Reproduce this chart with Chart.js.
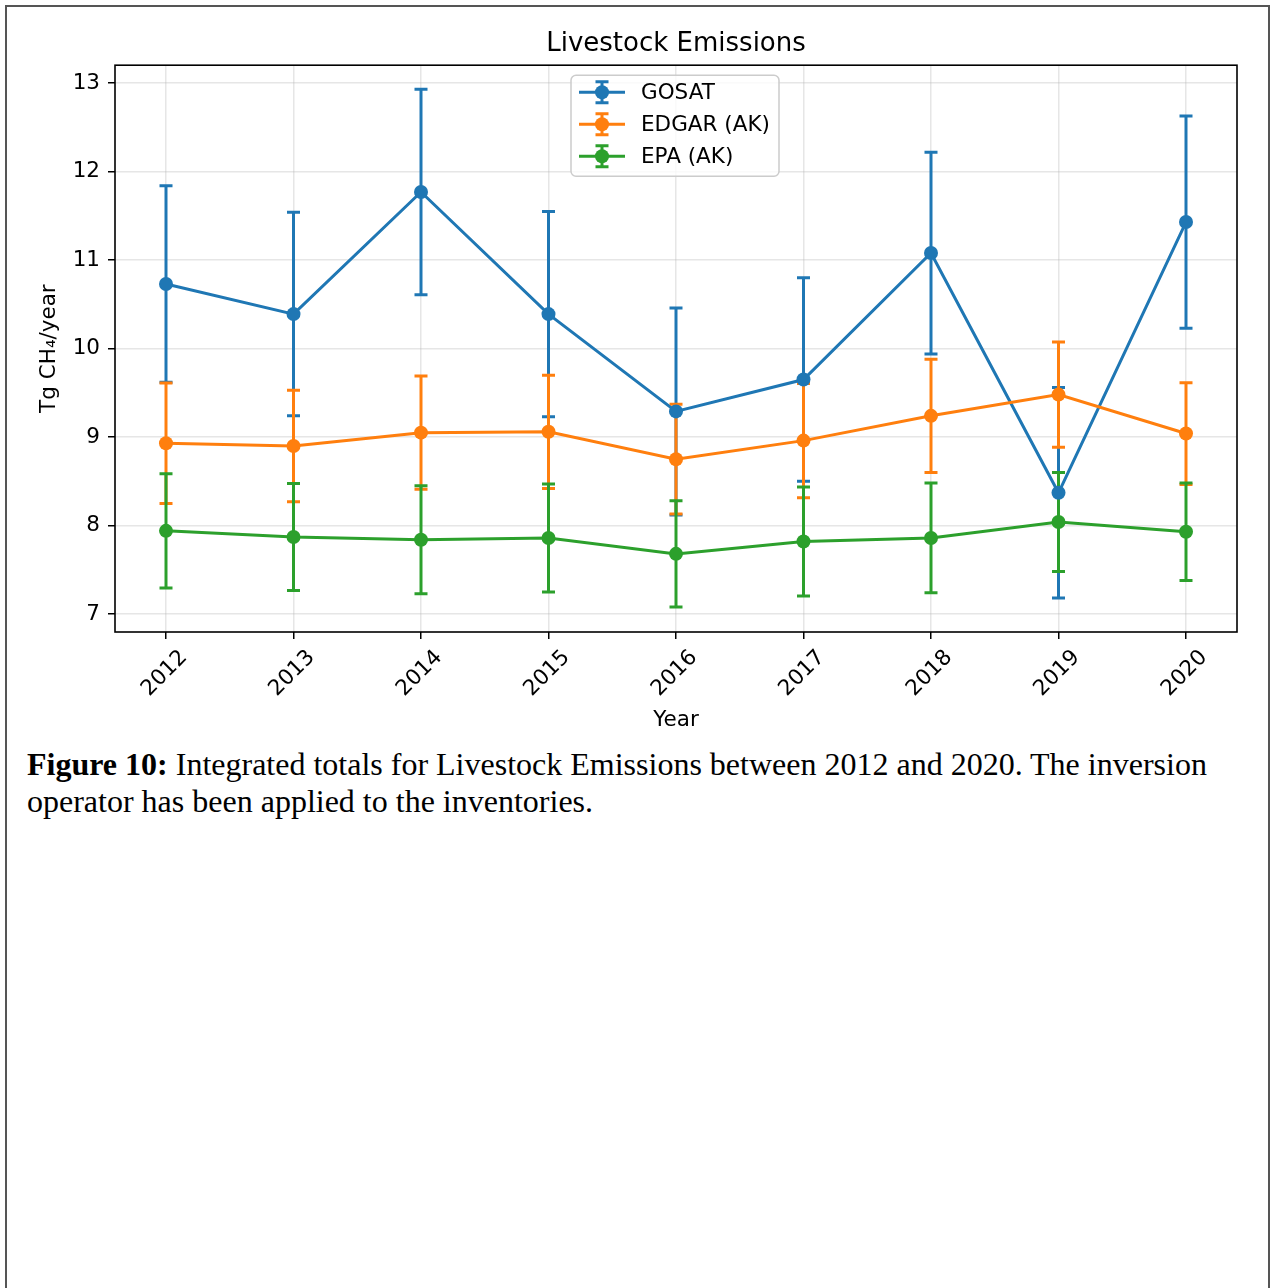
<!DOCTYPE html>
<html>
<head>
<meta charset="utf-8">
<script src="https://cdn.jsdelivr.net/npm/chart.js@4.4.1/dist/chart.umd.min.js"></script>
<style>
  html, body { margin: 0; padding: 0; background: #fff; overflow: hidden; }
  body { width: 1270px; height: 1288px; position: relative; }
  #frame {
    position: absolute; left: 5px; top: 5px; width: 1265px; height: 1300px;
    box-sizing: border-box; border: 2px solid #555; border-bottom: none;
    pointer-events: none;
  }
  #chart { position: absolute; left: 0; top: 0; display: block; }
  #caption {
    position: absolute; left: 27px; top: 746px; width: 1220px;
    font-family: "Liberation Serif", "Times New Roman", serif;
    font-size: 32px; line-height: 37px; color: #000; white-space: nowrap;
  }
</style>
</head>
<body>
<div id="frame"></div>
<canvas id="chart" width="1270" height="740"></canvas>
<div id="caption"><b>Figure 10:</b> Integrated totals for Livestock Emissions between 2012 and 2020. The inversion<br>operator has been applied to the inventories.</div>
<script>
// Years on the x axis
const years = [2012, 2013, 2014, 2015, 2016, 2017, 2018, 2019, 2020];

// Integrated totals (Tg CH4/year) and their 1-sigma uncertainties
const gosat    = [10.73, 10.39, 11.77, 10.39, 9.29, 9.65, 11.08, 8.37, 11.43];
const gosatErr = [1.11, 1.15, 1.16, 1.16, 1.17, 1.15, 1.14, 1.19, 1.20];
const edgar    = [8.93, 8.90, 9.05, 9.06, 8.75, 8.96, 9.24, 9.48, 9.04];
const edgarErr = [0.68, 0.63, 0.64, 0.64, 0.62, 0.645, 0.64, 0.595, 0.575];
const epa      = [7.94, 7.87, 7.84, 7.86, 7.68, 7.82, 7.86, 8.04, 7.93];
const epaErr   = [0.645, 0.605, 0.61, 0.61, 0.60, 0.615, 0.62, 0.56, 0.55];

const seriesNames = ['GOSAT', 'EDGAR (AK)', 'EPA (AK)'];
const yTicks = [7, 8, 9, 10, 11, 12, 13];

const colors = ['#1f77b4', '#ff7f0e', '#2ca02c'];
const seriesValues = [gosat, edgar, epa];
const seriesErrors = [gosatErr, edgarErr, epaErr];

const LINE_W = 3;
const CAP_HALF = 6.5;
const FONT_SIZE = 21.5;

Chart.defaults.font.family = '"DejaVu Sans", sans-serif';
Chart.defaults.font.size = FONT_SIZE;
Chart.defaults.color = '#000';

// Vertical error bars with caps, drawn beneath the lines and markers
const errorBars = {
  id: 'errorBars',
  beforeDatasetsDraw(chart) {
    const {ctx, scales: {x, y}, chartArea} = chart;
    ctx.save();
    ctx.beginPath();
    ctx.rect(chartArea.left, chartArea.top, chartArea.right - chartArea.left, chartArea.bottom - chartArea.top);
    ctx.clip();
    ctx.lineWidth = LINE_W;
    ctx.lineCap = 'butt';
    seriesValues.forEach((vals, i) => {
      ctx.strokeStyle = colors[i];
      vals.forEach((v, j) => {
        const px = x.getPixelForValue(years[j]);
        const top = y.getPixelForValue(v + seriesErrors[i][j]);
        const bot = y.getPixelForValue(v - seriesErrors[i][j]);
        ctx.beginPath();
        ctx.moveTo(px, top); ctx.lineTo(px, bot);
        ctx.moveTo(px - CAP_HALF, top); ctx.lineTo(px + CAP_HALF, top);
        ctx.moveTo(px - CAP_HALF, bot); ctx.lineTo(px + CAP_HALF, bot);
        ctx.stroke();
      });
    });
    ctx.restore();
  }
};

// Axes frame on all four sides
const frameBox = {
  id: 'frameBox',
  afterDatasetsDraw(chart) {
    const {ctx, chartArea: a} = chart;
    ctx.save();
    ctx.strokeStyle = '#000';
    ctx.lineWidth = 1.6;
    ctx.strokeRect(a.left, a.top, a.right - a.left, a.bottom - a.top);
    ctx.restore();
  }
};

// Legend box with errorbar-style handles
const errLegend = {
  id: 'errLegend',
  afterDraw(chart) {
    const {ctx, chartArea: a} = chart;
    const bx = a.left + 456, by = a.top + 10, bw = 208, bh = 101, r = 5;
    ctx.save();
    ctx.beginPath();
    ctx.moveTo(bx + r, by);
    ctx.arcTo(bx + bw, by, bx + bw, by + bh, r);
    ctx.arcTo(bx + bw, by + bh, bx, by + bh, r);
    ctx.arcTo(bx, by + bh, bx, by, r);
    ctx.arcTo(bx, by, bx + bw, by, r);
    ctx.closePath();
    ctx.fillStyle = 'rgba(255,255,255,0.8)';
    ctx.fill();
    ctx.strokeStyle = '#cccccc';
    ctx.lineWidth = 1.5;
    ctx.stroke();

    ctx.font = FONT_SIZE + 'px "DejaVu Sans", sans-serif';
    ctx.textBaseline = 'middle';
    ctx.textAlign = 'left';
    seriesNames.forEach((name, i) => {
      const cy = by + 17 + i * 32;
      const x0 = bx + 8, x1 = bx + 54, cx = (x0 + x1) / 2;
      ctx.strokeStyle = colors[i];
      ctx.fillStyle = colors[i];
      ctx.lineWidth = LINE_W;
      ctx.beginPath();
      ctx.moveTo(x0, cy); ctx.lineTo(x1, cy);
      ctx.moveTo(cx, cy - 10.5); ctx.lineTo(cx, cy + 10.5);
      ctx.moveTo(cx - CAP_HALF, cy - 10.5); ctx.lineTo(cx + CAP_HALF, cy - 10.5);
      ctx.moveTo(cx - CAP_HALF, cy + 10.5); ctx.lineTo(cx + CAP_HALF, cy + 10.5);
      ctx.stroke();
      ctx.beginPath();
      ctx.arc(cx, cy, 7, 0, Math.PI * 2);
      ctx.fill();
      ctx.fillStyle = '#000';
      ctx.fillText(name, bx + 70, cy + 1);
    });
    ctx.restore();
  }
};

const datasets = seriesNames.map((name, i) => ({
  label: name,
  data: years.map((yr, j) => ({x: yr, y: seriesValues[i][j]})),
  borderColor: colors[i],
  backgroundColor: colors[i],
  borderWidth: LINE_W,
  pointRadius: 7,
  pointBorderWidth: 0,
  pointBackgroundColor: colors[i],
  tension: 0,
  order: seriesNames.length - 1 - i
}));

const gridColor = 'rgba(176,176,176,0.32)';

new Chart(document.getElementById('chart'), {
  type: 'line',
  data: { datasets },
  plugins: [errorBars, frameBox, errLegend],
  options: {
    responsive: false,
    devicePixelRatio: 1,
    animation: false,
    events: [],
    layout: { padding: { left: 0, right: 33, top: 0, bottom: 0 } },
    plugins: {
      legend: { display: false },
      tooltip: { enabled: false },
      title: {
        display: true,
        fullSize: false,
        text: 'Livestock Emissions',
        font: { size: 26, weight: 'normal' },
        color: '#000',
        padding: { top: 29, bottom: 5 }
      }
    },
    scales: {
      x: {
        type: 'linear',
        min: 2011.6,
        max: 2020.4,
        afterFit(s) { s.height = 108; },
        afterBuildTicks(s) { s.ticks = years.map(v => ({value: v})); },
        ticks: {
          minRotation: 45,
          maxRotation: 45,
          padding: 6,
          labelOffset: 18,
          color: '#000',
          font: { size: FONT_SIZE },
          callback: v => String(v)
        },
        grid: {
          color: gridColor,
          lineWidth: 1.5,
          drawTicks: true,
          tickLength: 7,
          tickColor: '#000',
          tickWidth: 1.5
        },
        border: { display: false },
        title: {
          display: true,
          text: 'Year',
          font: { size: FONT_SIZE },
          color: '#000',
          padding: { top: 0, bottom: 7 }
        }
      },
      y: {
        type: 'linear',
        min: 6.797,
        max: 13.203,
        afterFit(s) { s.width = 115; },
        afterBuildTicks(s) { s.ticks = yTicks.map(v => ({value: v})); },
        ticks: {
          padding: 8,
          color: '#000',
          font: { size: FONT_SIZE },
          callback: v => String(v)
        },
        grid: {
          color: gridColor,
          lineWidth: 1.5,
          drawTicks: true,
          tickLength: 7,
          tickColor: '#000',
          tickWidth: 1.5
        },
        border: { display: false },
        title: {
          display: true,
          text: 'Tg CH\u2084/year',
          font: { size: FONT_SIZE },
          color: '#000',
          padding: { top: 37, bottom: 0 }
        }
      }
    }
  }
});
</script>
</body>
</html>
